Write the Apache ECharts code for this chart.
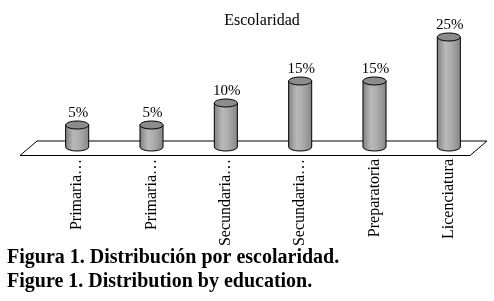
<!DOCTYPE html>
<html>
<head>
<meta charset="utf-8">
<script src="https://cdn.jsdelivr.net/npm/echarts@6/dist/echarts.min.js"></script>
<style>
html,body{margin:0;padding:0;background:#fff;}
#chart{width:494px;height:301px;}
</style>
</head>
<body>
<div id="chart"></div>
<script>
// datos de la figura
var categorias = ['Primaria…', 'Primaria…', 'Secundaria…', 'Secundaria…', 'Preparatoria', 'Licenciatura'];
var valores = [5, 5, 10, 15, 15, 25];
var etiquetas = ['5%', '5%', '10%', '15%', '15%', '25%'];

var serif = '"Liberation Serif", "DejaVu Serif", serif';
var chart = echarts.init(document.getElementById('chart'));

// cilindro: cuerpo + elipse superior + etiqueta
function renderCilindro(params, api) {
    var i = api.value(0);
    var top = api.coord([i, api.value(1)]);
    var base = api.coord([i, 0]);
    var w = api.size([1, 0])[0] * 0.31;
    var rx = w / 2, ry = 4;
    var cx = top[0];
    var body = {
        type: 'path',
        shape: {
            pathData: 'M' + (cx - rx) + ' ' + top[1] +
                ' L' + (cx - rx) + ' ' + base[1] +
                ' A' + rx + ' ' + ry + ' 0 0 0 ' + (cx + rx) + ' ' + base[1] +
                ' L' + (cx + rx) + ' ' + top[1] + ' Z'
        },
        style: {
            fill: new echarts.graphic.LinearGradient(0, 0, 1, 0, [
                {offset: 0, color: '#7e7e7e'},
                {offset: 0.35, color: '#b9b9b9'},
                {offset: 0.6, color: '#acacac'},
                {offset: 1, color: '#858585'}
            ]),
            stroke: '#000',
            lineWidth: 1
        }
    };
    var tapa = {
        type: 'ellipse',
        shape: {cx: cx, cy: top[1], rx: rx, ry: ry},
        style: {fill: '#8c8c8c', stroke: '#000', lineWidth: 1}
    };
    var txt = {
        type: 'text',
        style: {
            text: etiquetas[params.dataIndex],
            x: cx + 1, y: top[1] - 12,
            align: 'center', verticalAlign: 'middle',
            font: '15px ' + serif,
            fill: '#000'
        }
    };
    return {type: 'group', children: [body, tapa, txt]};
}

// piso en perspectiva
function renderPiso(params, api) {
    var cs = params.coordSys;
    var y0 = api.coord([0, 0])[1];
    var x0 = cs.x, x1 = cs.x + cs.width;
    var yb = y0 - 6, yf = y0 + 8.5;
    return {
        type: 'polygon',
        shape: {points: [[x0 - 3, yb], [x1 + 1, yb], [x1 - 16, yf], [x0 - 20, yf]]},
        style: {fill: '#fff', stroke: '#000', lineWidth: 1}
    };
}

var option = {
    backgroundColor: '#fff',
    animation: false,
    title: {
        text: 'Escolaridad',
        left: 257,
        textAlign: 'center',
        top: 8,
        textStyle: {fontFamily: serif, fontSize: 16, fontWeight: 'normal', color: '#000'}
    },
    grid: {left: 40, right: 8, top: 37, bottom: 154},
    xAxis: {
        type: 'category',
        data: categorias,
        axisLine: {show: false},
        axisTick: {show: false},
        axisLabel: {rotate: 90, margin: 12, fontFamily: serif, fontSize: 16, color: '#000', interval: 0}
    },
    yAxis: {
        type: 'value',
        min: 0,
        max: 25,
        show: false
    },
    series: [{
        type: 'custom',
        renderItem: renderPiso,
        data: [[0, 0]],
        clip: false,
        silent: true,
        z: 1
    }, {
        type: 'custom',
        renderItem: renderCilindro,
        data: valores.map(function (v, i) { return [i, v]; }),
        clip: false,
        z: 2
    }],
    graphic: [{
        type: 'text',
        left: 7,
        top: 248,
        z: 10,
        style: {text: 'Figura 1. Distribución por escolaridad.', font: 'bold 20px ' + serif, fill: '#000'}
    }, {
        type: 'text',
        left: 7,
        top: 272,
        z: 10,
        style: {text: 'Figure 1. Distribution by education.', font: 'bold 20px ' + serif, fill: '#000'}
    }]
};
chart.setOption(option);
window.onresize = chart.resize;
</script>
</body>
</html>
